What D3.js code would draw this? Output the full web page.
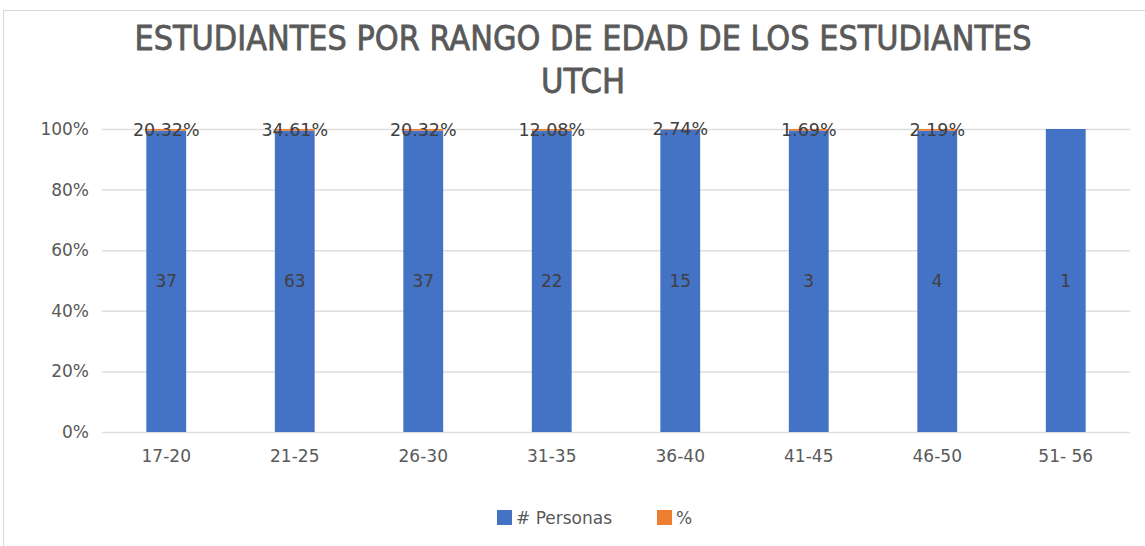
<!DOCTYPE html>
<html>
<head>
<meta charset="utf-8">
<script src="https://cdn.jsdelivr.net/npm/d3@7"></script>
<style>
  body { margin: 0; background: #fff; }
  svg text { font-family: "DejaVu Sans", sans-serif; }
</style>
</head>
<body>
<div></div>
<script>
let categories = ["17-20", "21-25", "26-30", "31-35", "36-40", "41-45", "46-50", "51- 56"]
let personas = [37, 63, 37, 22, 15, 3, 4, 1]
let porcentaje = [20.32, 34.61, 20.32, 12.08, 2.74, 1.69, 2.19, null]
let yTicks = [0, 0.2, 0.4, 0.6, 0.8, 1]

let w = 1145, h = 546
let plotLeft = 102, plotRight = 1130, plotTop = 129, plotBottom = 432

let svg = d3.select("div").append("svg").attr("width", w).attr("height", h)

svg.append("rect").attr("x", 3.5).attr("y", 10.5).attr("width", w - 3).attr("height", h - 10)
    .attr("fill", "#fff").attr("stroke", "#d9d9d9")

// stacked to 100%
let rows = categories.map((c, i) => {
    let p = porcentaje[i] == null ? 0 : porcentaje[i] / 100
    let tot = personas[i] + p
    return { cat: c, n: personas[i], pct: porcentaje[i], a: personas[i] / tot, b: p / tot }
})

let x = d3.scaleBand().domain(categories).range([plotLeft, plotRight]).paddingInner(0.69).paddingOuter(0.345)
let y = d3.scaleLinear().domain([0, 1]).range([plotBottom, plotTop])

// grid
svg.append("g").selectAll("line").data(yTicks).enter().append("line")
    .attr("x1", plotLeft).attr("x2", plotRight)
    .attr("y1", d => y(d) + 0.5).attr("y2", d => y(d) + 0.5)
    .attr("stroke", "#dedede").attr("stroke-width", 1.5)

let yAxis = d3.axisLeft(y).tickValues(yTicks).tickFormat(d3.format(".0%")).tickSize(0).tickPadding(13)
let gy = svg.append("g").attr("transform", "translate(" + plotLeft + ",0)").call(yAxis)
gy.select(".domain").remove()
gy.selectAll("text").attr("font-size", 17).attr("fill", "#595959")

let xAxis = d3.axisBottom(x).tickSize(0).tickPadding(18)
let gx = svg.append("g").attr("transform", "translate(0," + plotBottom + ")").call(xAxis)
gx.select(".domain").remove()
gx.selectAll("text").attr("font-size", 17).attr("fill", "#595959")

// bars
svg.selectAll(".bar").data(rows).enter().append("rect")
    .attr("x", d => x(d.cat)).attr("width", x.bandwidth())
    .attr("y", d => y(d.a)).attr("height", d => plotBottom - y(d.a))
    .attr("fill", "#4472c4")

svg.selectAll(".bar2").data(rows.filter(d => d.b > 0)).enter().append("rect")
    .attr("x", d => x(d.cat)).attr("width", x.bandwidth())
    .attr("y", d => y(d.a + d.b)).attr("height", d => y(d.a) - y(d.a + d.b))
    .attr("fill", "#ed7d31")

// labels
svg.selectAll(".lblN").data(rows).enter().append("text")
    .attr("x", d => x(d.cat) + x.bandwidth() / 2).attr("y", d => y(d.a / 2) + 6)
    .attr("text-anchor", "middle").attr("font-size", 17).attr("fill", "#404040")
    .text(d => d.n)

svg.selectAll(".lblP").data(rows.filter(d => d.pct != null)).enter().append("text")
    .attr("x", d => x(d.cat) + x.bandwidth() / 2).attr("y", d => y(d.a + d.b / 2) + 6)
    .attr("text-anchor", "middle").attr("font-size", 17.5).attr("fill", "#404040")
    .text(d => d.pct.toFixed(2) + "%")

// title
let title = svg.append("g").style("font-family", "'Liberation Sans Narrow', 'Liberation Sans', sans-serif")
    .attr("fill", "#595959").attr("stroke", "#595959").attr("stroke-width", 0.8)
title.append("text").attr("x", 583).attr("y", 50).attr("text-anchor", "middle")
    .attr("font-size", 33)
    .attr("textLength", 897).attr("lengthAdjust", "spacingAndGlyphs")
    .text("ESTUDIANTES POR RANGO DE EDAD DE LOS ESTUDIANTES")
title.append("text").attr("x", 583).attr("y", 93).attr("text-anchor", "middle")
    .attr("font-size", 33)
    .attr("textLength", 84).attr("lengthAdjust", "spacingAndGlyphs")
    .text("UTCH")

// legend
let legend = [["# Personas", "#4472c4", 497], ["%", "#ed7d31", 657]]
let lg = svg.selectAll(".lg").data(legend).enter().append("g")
lg.append("rect").attr("x", d => d[2]).attr("y", 510).attr("width", 15).attr("height", 15).attr("fill", d => d[1])
lg.append("text").attr("x", d => d[2] + 19).attr("y", 524).attr("font-size", 17).attr("fill", "#595959")
    .text(d => d[0])
</script>
</body>
</html>
